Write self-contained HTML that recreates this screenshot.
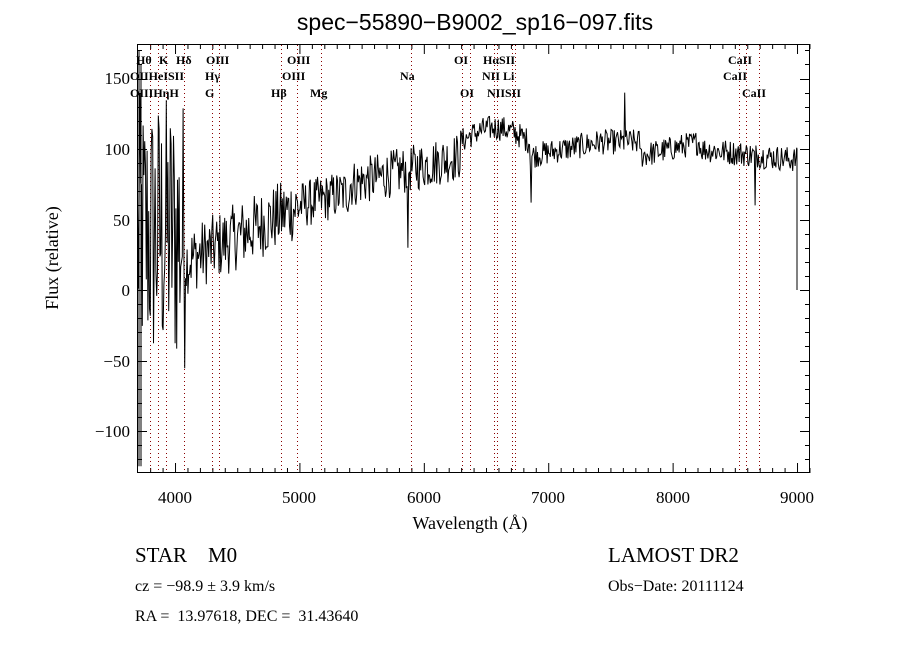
<!DOCTYPE html>
<html><head><meta charset="utf-8"><style>
body{margin:0;background:#fff;width:900px;height:650px;overflow:hidden}
svg{display:block}
text{font-family:"Liberation Serif",serif;fill:#000;white-space:pre}
.s{font-family:"Liberation Sans",sans-serif}
</style></head><body>
<svg id="c" width="900" height="650" xmlns="http://www.w3.org/2000/svg">
<text x="475" y="30" font-size="23" text-anchor="middle" class="s">spec−55890−B9002_sp16−097.fits</text>
<rect x="137.5" y="44.5" width="672" height="428" fill="none" stroke="#000" stroke-width="1"/>
<g id="ticks" stroke="#000" stroke-width="1"></g>
<g id="lines" stroke="#8b0000" stroke-width="1" stroke-dasharray="1,3"></g>
<path id="sp" fill="none" stroke="#000" stroke-width="1"/>
<g font-size="17" class="s" text-anchor="middle">
<text x="175" y="503">4000</text><text x="299" y="503">5000</text><text x="424" y="503">6000</text>
<text x="548" y="503">7000</text><text x="673" y="503">8000</text><text x="797" y="503">9000</text>
</g>
<g font-size="17" class="s" text-anchor="end">
<text x="130" y="84">150</text><text x="130" y="155">100</text><text x="130" y="226">50</text>
<text x="130" y="296">0</text><text x="130" y="367">−50</text><text x="130" y="437">−100</text>
</g>
<text x="470" y="529" font-size="18" text-anchor="middle">Wavelength (Å)</text>
<text transform="translate(58,258) rotate(-90)" font-size="18" text-anchor="middle">Flux (relative)</text>
<g font-size="12" font-weight="bold">
<text x="136" y="64">Hθ</text><text x="159" y="64">K</text><text x="176" y="64">Hδ</text><text x="206" y="64">OIII</text>
<text x="287" y="64">OIII</text><text x="454" y="64">OI</text><text x="483" y="64">HαSII</text><text x="728" y="64">CaII</text>
<text x="130" y="80">OIIHeISII</text><text x="205" y="80">Hγ</text><text x="282" y="80">OIII</text><text x="400" y="80">Na</text>
<text x="482" y="80">NII Li</text><text x="723" y="80">CaII</text>
<text x="130" y="97">OIIIHηH</text><text x="205" y="97">G</text><text x="271" y="97">Hβ</text><text x="310" y="97">Mg</text>
<text x="460" y="97">OI</text><text x="487" y="97">NIISII</text><text x="742" y="97">CaII</text>
</g>
<text x="135" y="562" font-size="21">STAR    M0</text>
<text x="608" y="562" font-size="21">LAMOST DR2</text>
<text x="135" y="591" font-size="16">cz = −98.9 ± 3.9 km/s</text>
<text x="608" y="591" font-size="16">Obs−Date: 20111124</text>
<text x="135" y="621" font-size="16">RA =  13.97618, DEC =  31.43640</text>
</svg>
<script>
var NS="http://www.w3.org/2000/svg";
function L(g,x1,y1,x2,y2){var l=document.createElementNS(NS,"line");l.setAttribute("x1",x1);l.setAttribute("y1",y1);l.setAttribute("x2",x2);l.setAttribute("y2",y2);document.getElementById(g).appendChild(l);}
function X(w){return 137.7+(w-3700)*0.1244;}
function Y(f){return 290-f*1.41;}
for(var w=3800;w<=9100;w+=100){var x=X(w)+.5,big=w%1000==0;L("ticks",x,473,x,big?463:468);L("ticks",x,44,x,big?54:49);}
for(var f=-120;f<=170;f+=10){var y=Math.round(Y(f))+.5,big=f%50==0;L("ticks",137,y,big?147:142,y);L("ticks",810,y,big?800:805,y);}
[150,158,166,184,212,219,281,297,321,411,462,470,494,497,512,515,739,746,759].forEach(function(x){L("lines",x+.5,45,x+.5,472);});
var s=12345;function r(){s=(s*1103515245+12345)%2147483648;return s/2147483648;}
function base(x){
 if(x<185) return 40;
 if(x<300) return 20+(x-185)/115*40;
 if(x<350) return 60+(x-300)/50*10;
 if(x<460) return 75+(x-350)/110*20;
 if(x<530) return 105+10*Math.sin((x-460)/70*Math.PI);
 if(x<600) return 95+(x-530)/70*10;
 if(x<640) return 105;
 if(x<700) return 95+(x-640)/60*10;
 return 100-(x-700)/100*8;}
var d="";var st=[0,0,0,0];
for(var x=137.5;x<797;x+=0.8){
 var amp=x<185?100:(x<300?24:(x<460?17:9));
 var f=base(x)+(r()-0.5)*2*amp;
 if(Math.abs(x-408)<0.5&&!st[0]){f=30;st[0]=1;}
 if(Math.abs(x-531)<0.5&&!st[1]){f=62;st[1]=1;}
 if(Math.abs(x-625)<0.5&&!st[2]){f=140;st[2]=1;}
 if(Math.abs(x-755)<0.5&&!st[3]){f=60;st[3]=1;}
 d+=(d?"L":"M")+x.toFixed(1)+","+Y(f).toFixed(1);}
d+="L797,"+Y(100)+"L797,"+Y(0)+"L797,"+Y(50);
d+="M139,"+Y(-125)+"L139,"+Y(170)+"M141,"+Y(-125)+"L141,"+Y(160);
document.getElementById("sp").setAttribute("d",d);
</script>
</body></html>
